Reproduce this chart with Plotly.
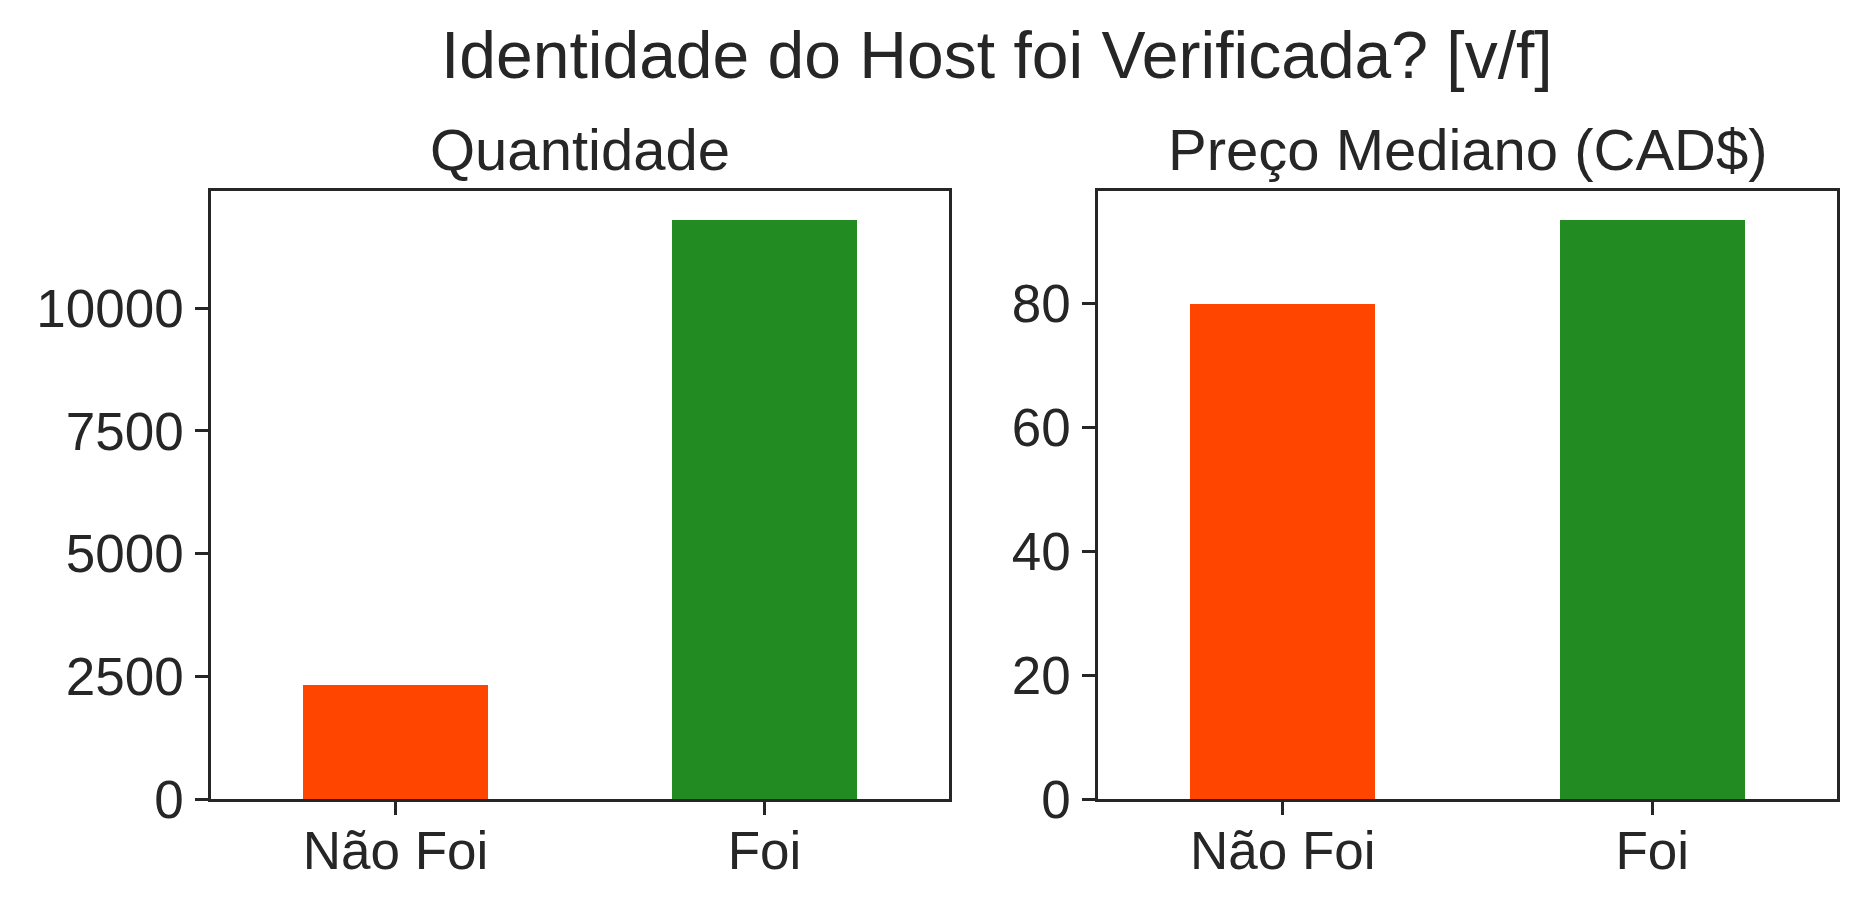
import plotly.graph_objects as go
from plotly.subplots import make_subplots

categories = ["Não Foi", "Foi"]
quantidade = [2330, 11800]
preco_mediano = [80.0, 93.5]
bar_colors = ["#FF4500", "#228B22"]

left_ticks = [0, 2500, 5000, 7500, 10000]
left_ticktext = ["0", "2500", "5000", "7500", "10000"]
right_ticks = [0, 20, 40, 60, 80]
right_ticktext = ["0", "20", "40", "60", "80"]

W, H = 1867, 908
L, R, T, B = 211, 30, 190.5, 109
plot_w = W - L - R
plot_h = H - T - B

font_family = "Liberation Sans, Arial, sans-serif"
txt = "#262626"

fig = make_subplots(rows=1, cols=2)
fig.add_trace(go.Bar(x=categories, y=quantidade, marker=dict(color=bar_colors, line=dict(width=0)),
                     width=0.5, showlegend=False), row=1, col=1)
fig.add_trace(go.Bar(x=categories, y=preco_mediano, marker=dict(color=bar_colors, line=dict(width=0)),
                     width=0.5, showlegend=False), row=1, col=2)

x1_end = (949 - L) / plot_w
x2_start = (1098 - L) / plot_w

axis_common = dict(showline=True, linecolor=txt, linewidth=2.5, mirror=True,
                   ticks="outside", ticklen=13, tickwidth=2.7, tickcolor=txt,
                   showgrid=False, zeroline=False,
                   tickfont=dict(family=font_family, size=53, color=txt))

fig.update_xaxes(**axis_common, range=[-0.5, 1.5], ticklabelstandoff=-9)
fig.update_yaxes(**axis_common, ticklabelstandoff=1)
fig.update_layout(
    xaxis=dict(domain=[0, x1_end]),
    xaxis2=dict(domain=[x2_start, 1]),
    yaxis=dict(range=[0, max(quantidade) * 1.05], tickvals=left_ticks, ticktext=left_ticktext),
    yaxis2=dict(range=[0, max(preco_mediano) * 1.05], tickvals=right_ticks, ticktext=right_ticktext),
)

def py(ypix):
    return (H - B - ypix) / plot_h

def px(xpix):
    return (xpix - L) / plot_w

annotations = [
    dict(text="Identidade do Host foi Verificada? [v/f]", x=px(997), y=py(54.5),
         font=dict(family=font_family, size=66, color=txt)),
    dict(text="Quantidade", x=px(580), y=py(148.5),
         font=dict(family=font_family, size=58, color=txt)),
    dict(text="Preço Mediano (CAD$)", x=px((1098 + 1837) / 2), y=py(148.5),
         font=dict(family=font_family, size=58, color=txt)),
]
for a in annotations:
    a.update(xref="paper", yref="paper", showarrow=False, xanchor="center", yanchor="middle")

fig.update_layout(
    width=W, height=H,
    margin=dict(l=L, r=R, t=T, b=B, autoexpand=False),
    paper_bgcolor="white", plot_bgcolor="white",
    annotations=annotations,
    bargap=0,
)

fig.write_html("out.html")
